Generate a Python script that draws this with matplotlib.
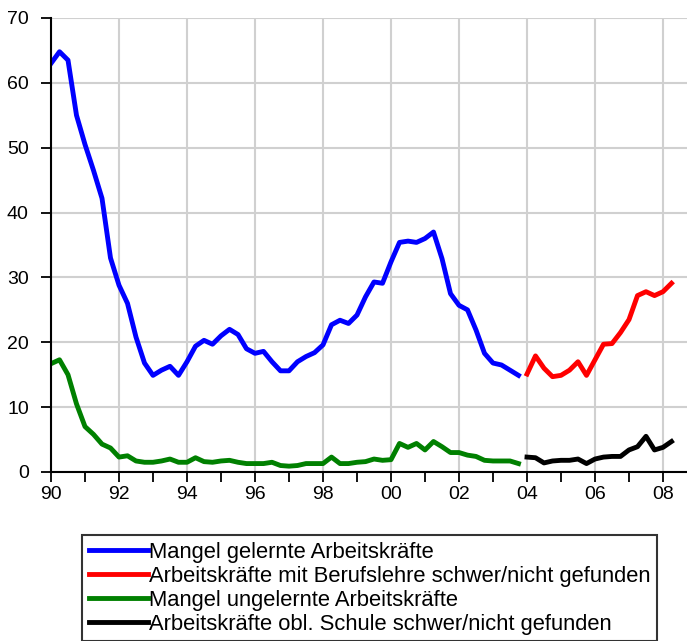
import matplotlib
matplotlib.use("Agg")
import matplotlib.pyplot as plt
from matplotlib.ticker import FixedLocator, FixedFormatter
import numpy as np

plt.rcParams['font.family'] = ['Liberation Sans', 'DejaVu Sans']

# quarterly data, 1990Q1 - 2003Q4
gelernte = [63.0, 64.8, 63.5, 55.0, 50.5, 46.5, 42.2, 33.0, 28.8, 26.0,
            20.8, 16.8, 14.9, 15.7, 16.3, 14.9, 17.0, 19.4, 20.3, 19.7,
            21.0, 22.0, 21.2, 19.0, 18.3, 18.6, 17.0, 15.6, 15.6, 17.0,
            17.8, 18.4, 19.6, 22.7, 23.4, 22.9, 24.2, 27.0, 29.3, 29.1,
            32.4, 35.4, 35.6, 35.4, 36.0, 37.0, 32.9, 27.5, 25.7, 25.0,
            21.9, 18.3, 16.8, 16.5, 15.7, 14.9]
ungelernte = [16.7, 17.3, 15.0, 10.5, 7.0, 5.8, 4.3, 3.7, 2.3, 2.5,
              1.7, 1.5, 1.5, 1.7, 2.0, 1.5, 1.5, 2.2, 1.6, 1.5,
              1.7, 1.8, 1.5, 1.3, 1.3, 1.3, 1.5, 1.0, 0.9, 1.0,
              1.3, 1.3, 1.3, 2.3, 1.3, 1.3, 1.5, 1.6, 2.0, 1.8,
              1.9, 4.4, 3.8, 4.4, 3.4, 4.7, 3.9, 3.0, 3.0, 2.6,
              2.4, 1.8, 1.7, 1.7, 1.7, 1.3]
# quarterly data, 2004Q1 - 2008Q2
berufslehre = [15.1, 17.9, 16.0, 14.7, 14.9, 15.7, 17.0, 14.9, 17.3,
               19.7, 19.8, 21.5, 23.5, 27.2, 27.8, 27.2, 27.8, 29.1]
obl_schule = [2.3, 2.2, 1.4, 1.7, 1.8, 1.8, 2.0, 1.3, 2.0,
              2.3, 2.4, 2.4, 3.4, 3.9, 5.5, 3.4, 3.8, 4.7]

labels = ["Mangel gelernte Arbeitskräfte",
          "Arbeitskräfte mit Berufslehre schwer/nicht gefunden",
          "Mangel ungelernte Arbeitskräfte",
          "Arbeitskräfte obl. Schule schwer/nicht gefunden"]
major_years = [1990, 1992, 1994, 1996, 1998, 2000, 2002, 2004, 2006, 2008]
major_labels = ["90", "92", "94", "96", "98", "00", "02", "04", "06", "08"]
minor_years = [1991, 1993, 1995, 1997, 1999, 2001, 2003, 2005, 2007]

x1 = 1990 + np.arange(len(gelernte)) / 4.0
x2 = 2004 + np.arange(len(berufslehre)) / 4.0

W, H = 687, 641
fig = plt.figure(figsize=(W / 100, H / 100), dpi=100)
ax = fig.add_axes([51 / W, 1 - 472 / H, (687 - 51) / W, (472 - 18) / H])

lw = 3.5
l1, = ax.plot(x1, gelernte, color='#0000ff', lw=lw, solid_joinstyle='round')
l2, = ax.plot(x2, berufslehre, color='#ff0000', lw=lw, solid_joinstyle='round')
l3, = ax.plot(x1, ungelernte, color='#008000', lw=lw, solid_joinstyle='round')
l4, = ax.plot(x2, obl_schule, color='#000000', lw=lw, solid_joinstyle='round')

ax.set_xlim(1990, 1990 + 636 / 34)
ax.set_ylim(0, 70)
ax.xaxis.set_major_locator(FixedLocator(major_years))
ax.xaxis.set_major_formatter(FixedFormatter(major_labels))
ax.xaxis.set_minor_locator(FixedLocator(minor_years))
ax.set_yticks(range(0, 71, 10))
ax.tick_params(axis='both', which='both', direction='out', length=7, width=1.3,
               labelsize=14, color='black')
ax.tick_params(axis='x', pad=3)
ax.tick_params(axis='y', pad=9)
ax.grid(True, which='major', color='#d0d0d0', lw=1.5)
ax.set_axisbelow(True)
for s in ['top', 'right']:
    ax.spines[s].set_visible(False)
ax.spines['left'].set_linewidth(1.5)
ax.spines['bottom'].set_linewidth(1.5)

leg = fig.legend([l1, l2, l3, l4], labels, loc='upper left',
                 bbox_to_anchor=(82 / W, 1 - 535 / H), fontsize=15.8,
                 frameon=True, fancybox=False, edgecolor='black',
                 handlelength=2.7, handletextpad=0.06, labelspacing=0.14,
                 borderpad=0.3, borderaxespad=0)
leg.get_frame().set_linewidth(1.5)

fig.savefig("out.png", dpi=100)
